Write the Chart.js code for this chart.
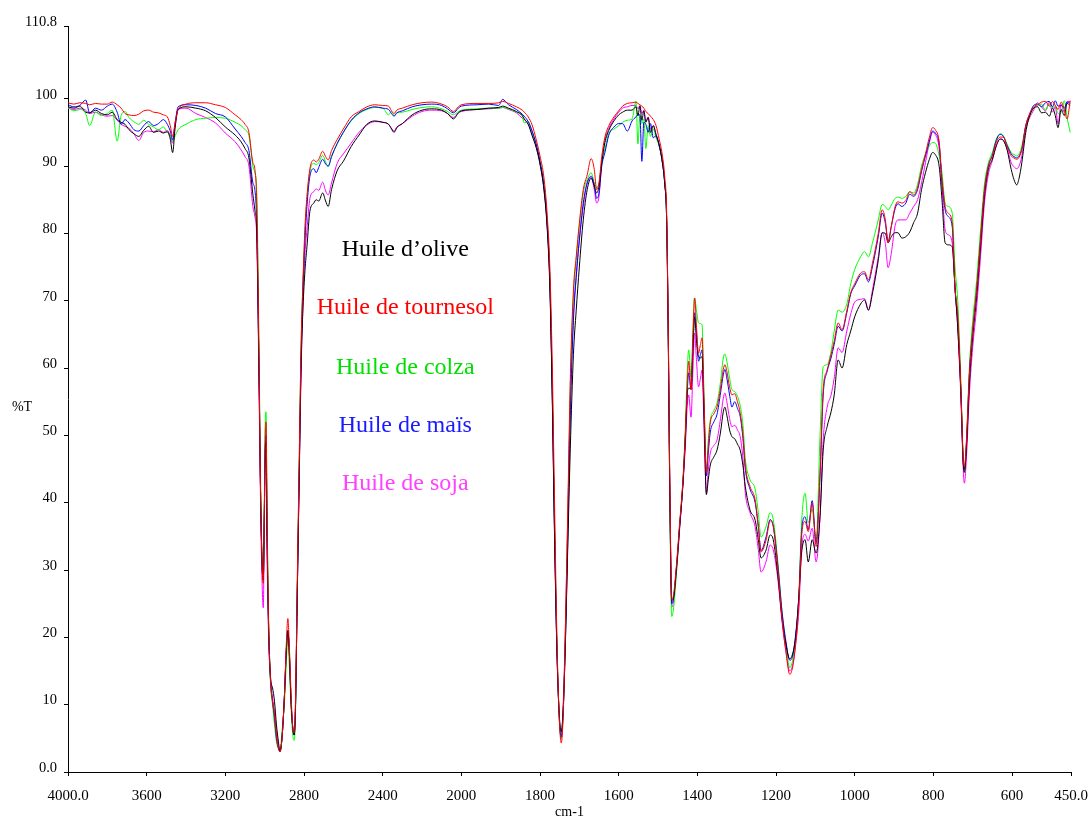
<!DOCTYPE html>
<html>
<head>
<meta charset="utf-8">
<title>Spectres IR des huiles végétales</title>
<script src="https://cdn.jsdelivr.net/npm/chart.js@4.4.1/dist/chart.umd.min.js"></script>
<style>
  html, body { margin: 0; padding: 0; background: #ffffff; }
  canvas { display: block; }
</style>
</head>
<body>
<canvas id="spectra" width="1090" height="821"></canvas>
<script>
// Wavenumbers (cm-1), from 4000 down to 450
const wavenumbers = [
  4000, 3970, 3940, 3910, 3890, 3860, 3830, 3800, 3775, 3750, 3730, 3710, 3690, 3665, 3640, 3615, 3590, 3565, 3540, 3515, 3495, 3480, 3468, 3455, 3440,
  3400, 3350, 3300, 3250, 3200, 3150, 3120, 3100, 3080, 3060, 3050, 3040, 3030,
  3020, 3012, 3007, 3002, 2997, 2993, 2988, 2980, 2970, 2960, 2950, 2940, 2930, 2922, 2912, 2900, 2890, 2882, 2875, 2865, 2855, 2850,
  2843, 2835, 2825, 2815, 2805, 2795, 2785, 2770, 2750, 2738, 2725, 2705, 2690, 2677, 2660, 2630, 2600,
  2560, 2520, 2480, 2440, 2400, 2370, 2355, 2342, 2328, 2300, 2250, 2200, 2150, 2100, 2070, 2040, 2015, 2000,
  1960, 1930, 1905, 1895, 1880, 1860, 1845, 1840, 1830, 1820, 1810, 1800,
  1790, 1782, 1775, 1769, 1763, 1757, 1751, 1746, 1741, 1736, 1730, 1723, 1715, 1708, 1700, 1690, 1680, 1670, 1662, 1656, 1650,
  1643, 1635, 1625, 1612, 1600, 1590, 1578, 1566, 1556, 1551, 1546, 1541, 1536, 1531, 1525, 1519, 1512, 1505, 1497, 1490, 1483, 1478, 1474, 1470,
  1465, 1460, 1455, 1450, 1445, 1440, 1436, 1430, 1426, 1422, 1416, 1411, 1407, 1402, 1397, 1392, 1388, 1383, 1377, 1372, 1367, 1358, 1350, 1341, 1334, 1330, 1325, 1318, 1312, 1305, 1298, 1291, 1284, 1278, 1266, 1253, 1245, 1238,
  1225, 1215, 1207, 1195, 1185, 1175, 1165, 1158, 1150, 1142, 1135, 1126, 1118, 1108, 1098, 1088, 1080, 1070, 1060, 1052, 1042, 1032, 1020, 1010, 1000,
  985, 975, 965, 955, 940, 930, 922, 915, 907, 897, 890, 880, 870, 860, 850, 840, 830, 820, 810, 802, 795, 785, 778, 770, 762, 752,
  745, 738, 730, 724, 721, 716, 708, 700, 690, 680, 670, 660, 650, 640, 630, 622, 612, 602, 595, 588, 582, 575, 565, 555, 545, 535, 525, 515, 505, 497, 490, 483, 475, 467, 460, 452
];

// Transmittance (%T) of each oil, one value per wavenumber
const olive = [
  98.8, 98.6, 98.9, 98.0, 97.9, 98.3, 97.8, 97.6, 98.0, 96.9, 96.5, 96.2, 95.4, 94.8, 94.4, 95.3, 95.9, 95.0, 95.2, 94.9, 95.1, 94.0, 92.0, 95.8, 98.4,
  98.8, 98.6, 98.2, 97.2, 95.8, 94.6, 93.6, 92.6, 91.2, 85.8, 83.5, 80.0, 62,
  40, 30, 28.5, 38, 48, 49, 35, 22, 14, 12.5, 10.5, 7, 4.5, 3.0, 5, 11, 18, 21, 18, 10, 6, 5.5,
  10, 25, 43, 60, 69, 74.5, 78, 83.3, 84.5, 85.0, 84.8, 86.0, 84.8, 84.0, 86.5, 89.4, 90.7,
  92.9, 94.6, 96.2, 96.7, 96.5, 96.2, 95.5, 95.0, 95.7, 96.3, 97.6, 98.3, 98.5, 98.3, 97.8, 97.0, 97.9, 98.2,
  98.4, 98.6, 98.7, 98.9, 98.6, 98.1, 97.5, 97.0, 96.2, 94.5, 92.8, 90.3,
  86.5, 81.0, 72, 56, 35, 18, 8.5, 6.0, 9.5, 18, 32, 48, 62, 68.5, 75, 82, 86.5, 88.2, 87.0, 86.0, 87.0,
  90.5, 93.5, 95.3, 96.7, 97.6, 98.0, 98.3, 98.3, 98.8, 97.5, 98.9, 96.8, 98.2, 96.5, 97.2, 95.0, 96.0, 94.6, 93.2, 91.0, 87.5, 82, 66, 42,
  25.5, 26, 29, 32.5, 36.5, 40, 43.4, 50, 56, 57, 57, 63, 67.6, 64, 61.7, 61.5, 61.7, 53, 41.2, 43.5, 45.6, 46.8, 47.8, 50.5, 53.5, 54.2, 53, 50.8, 49.8, 49.5, 48.7, 47.8, 45.5, 42.4, 38.9, 37.4, 34.5, 31.8,
  33, 35.2, 34.5, 29, 23, 19, 16.8, 17.5, 20, 26, 32.5, 34.5, 31.2, 34.5, 32.5, 38, 47.8, 51.3, 53.5, 56, 61.2, 60, 63.5, 65.5, 67.6,
  69.5, 70.1, 68.6, 71, 76, 80.1, 80, 78.6, 79.5, 80.1, 80.1, 79.3, 79.5, 80.2, 81.6, 83, 86.5, 89, 91, 92, 91.7, 89.9, 85, 78.6, 78.3, 78,
  72, 66, 56.5, 46, 44.5, 48, 58, 64.5, 70.5, 78, 85.5, 89.5, 91, 93, 94, 93.8, 92.3, 89.5, 88, 87.2, 88.2, 90.5, 95, 97.5, 98.6, 98.8, 97.9, 98.0, 97.4, 98.6, 97.5, 95.7, 98.4, 97.5, 99.3, 99.0
];

const tournesol = [
  99.4, 99.2, 99.4, 99.3, 99.1, 99.3, 99.2, 99.2, 99.5, 99.1, 98.6, 97.8, 97.6, 97.5, 97.7, 98.2, 98.3, 98.0, 97.9, 97.6, 97.3, 96.0, 94.4, 96.5, 98.4,
  99.2, 99.4, 99.4, 99.1, 98.7, 97.6, 96.9, 96.2, 95.0, 90.5, 89.6, 84.0, 64,
  40, 30, 28, 38, 50, 52, 38, 22, 13.5, 10.5, 8.5, 5.5, 3.5, 3.0, 5, 11, 19, 22.8, 19, 11, 6, 5.8,
  11, 27, 45, 63, 73, 81, 85.5, 89.6, 90.9, 90.6, 91.0, 92.2, 91.4, 90.9, 92.3, 94.0, 95.5,
  97.3, 98.1, 98.8, 99.1, 99.0, 98.9, 98.2, 97.8, 98.3, 98.6, 99.1, 99.4, 99.5, 99.2, 98.8, 98.1, 98.8, 99.1,
  99.3, 99.3, 99.4, 99.6, 99.3, 98.8, 98.3, 98.0, 97.3, 96.1, 94.0, 91.5,
  88.3, 83.0, 75, 61, 40, 20, 8, 4.3, 8.5, 20, 37, 58.2, 71.6, 76.5, 81.5, 86.5, 88.7, 91.1, 89.5, 86.5, 87.5,
  91.4, 94.3, 96.0, 97.3, 98.2, 98.9, 99.3, 99.4, 99.5, 99.3, 99.1, 98.9, 98.6, 98.1, 97.8, 97.4, 96.9, 96.0, 94.0, 92.0, 88.5, 83, 66, 44,
  25.6, 26.5, 29.5, 33, 37, 40.5, 43.8, 51, 57, 61, 56.8, 65, 70.4, 66, 62.2, 63.5, 64.5, 55, 44.4, 48.5, 51.9, 53.2, 54.2, 57, 59.8, 60.5, 59.5, 57.2, 56, 56.2, 55, 53.3, 50, 45.4, 42.4, 40.4, 36.5, 32.7,
  34.5, 37.3, 36.5, 30, 23, 18, 14.5, 15.5, 19, 25, 35, 37.2, 35.7, 39.9, 33.5, 44.4, 56.8, 59.7, 62, 64, 66.7, 65.7, 68.5, 71.2, 72.5,
  74.1, 74.3, 73.1, 75.5, 80, 83.5, 82, 78.6, 81, 84, 84.7, 84.5, 84.9, 86.2, 85.7, 86.8, 89.5, 91.8, 94.3, 95.7, 95.4, 93.5, 88, 84, 83.0, 81.6,
  72, 68, 57, 46.5, 45.3, 49, 59.5, 65.5, 71.5, 79, 86.3, 90, 91.5, 93.5, 94.3, 94.3, 92.8, 91.5, 91.2, 91.0, 91.3, 92.5, 96, 97.8, 98.8, 99.1, 99.5, 99.6, 98.9, 99.6, 99.0, 98.4, 99.5, 98.4, 97.0, 99.7
];

const colza = [
  98.7, 98.2, 98.4, 97.8, 96.0, 98.0, 97.5, 97.8, 98.3, 93.7, 97.5, 98.1, 97.2, 96.6, 96.2, 96.8, 96.2, 95.8, 95.4, 95.8, 95.0, 94.6, 93.7, 94.5, 95.4,
  96.2, 96.9, 97.1, 97.2, 97.1, 96.5, 96.0, 95.4, 94.5, 90.0, 89.0, 86.0, 66,
  42, 31, 29, 40, 52, 53.5, 40, 23, 13, 10, 7, 4.5, 3.5, 3.2, 6, 10, 16, 19.8, 16, 9, 5, 4.7,
  9, 26, 45, 63, 73, 80, 85, 89.2, 90.4, 90.2, 90.5, 91.6, 90.6, 89.9, 91.4, 93.4, 95.0,
  96.7, 97.8, 98.4, 98.7, 98.6, 97.6, 98.1, 97.5, 97.9, 98.0, 98.4, 98.7, 98.8, 98.5, 98.1, 97.6, 98.1, 98.3,
  98.5, 98.6, 98.6, 98.7, 98.5, 98.0, 97.4, 96.4, 96.6, 95.1, 93.3, 90.7,
  87.3, 82.0, 73.5, 58, 37, 19, 8, 5.0, 9, 19, 35, 57, 70.5, 76, 81, 86, 88, 89.0, 87.5, 86.8, 87.5,
  90.5, 92.5, 94.9, 95.5, 96.0, 96.5, 96.8, 97.0, 99.6, 93.3, 97.5, 96.3, 97.0, 92.6, 96.0, 94.4, 95.5, 94.2, 93.0, 91.0, 87.5, 82, 64, 40,
  23.1, 24.5, 28, 32, 36.5, 40.5, 44, 52, 59, 62.7, 58.7, 66, 70.4, 68.5, 66.7, 66.6, 66.4, 56, 44.6, 49.5, 52.3, 53.7, 54.8, 58, 61.5, 62.1, 61, 58.5, 56.8, 56.5, 55.8, 54.4, 51.5, 46.5, 43.4, 42, 38.5, 34.9,
  36.5, 38.5, 37.5, 31, 24, 19, 15.5, 16.5, 20, 26, 37, 41.4, 37, 39, 34.5, 50, 60.2, 60.5, 62.5, 65.5, 68.6, 68.3, 69.5, 72.5, 74.6,
  76.5, 77.3, 76.5, 78.5, 82, 84.3, 84, 83.5, 84.2, 85.2, 85.4, 85.2, 85.5, 86.2, 86, 87.3, 90.0, 91.8, 93, 93.5, 93.4, 91.5, 89, 84.5, 84, 83,
  75, 70, 58, 46.5, 44.8, 49, 60.5, 67, 73, 80.5, 87.3, 90.5, 92, 94, 94.8, 94.5, 93.2, 92, 91.7, 91.5, 91.8, 93, 96, 97.5, 98.6, 98.9, 99.2, 98.3, 99.2, 98.6, 99.0, 97.8, 98.0, 99.7, 97.2, 95.0
];

const mais = [
  99.1, 98.8, 99.0, 99.8, 97.9, 98.6, 98.3, 98.9, 99.2, 98.0, 96.2, 96.9, 96.4, 95.4, 95.2, 96.0, 96.6, 96.0, 96.3, 96.9, 96.2, 95.2, 93.9, 96.5, 98.8,
  99.1, 99.0, 98.6, 97.8, 97.3, 95.5, 94.4, 93.5, 92.3, 87.5, 86.5, 81.0, 62,
  40, 30, 28.5, 38, 48, 50, 36, 21, 13.5, 10.5, 8, 5, 3.5, 3.1, 5, 11, 18, 21, 18, 10, 6, 5.5,
  10, 25, 43, 61, 72, 79, 84, 88.5, 89.6, 89.0, 89.8, 91.0, 90.3, 90.0, 91.4, 93.4, 95.0,
  96.8, 97.9, 98.5, 98.8, 98.6, 98.4, 97.8, 97.4, 97.9, 98.2, 98.8, 99.1, 99.2, 99.0, 98.5, 97.9, 98.6, 98.9,
  99.1, 99.2, 99.0, 99.9, 99.1, 98.4, 97.7, 97.4, 96.6, 95.2, 93.3, 90.7,
  87.0, 81.6, 73, 57, 36, 18.5, 8, 5.2, 9, 18, 33, 53, 67, 73.5, 79, 84.5, 87.5, 88.5, 87.2, 85.2, 86.0,
  90.0, 92.0, 94.6, 95.8, 96.3, 96.3, 95.2, 96.7, 97.3, 97.6, 97.6, 90.7, 96.5, 96.2, 95.0, 96.3, 94.2, 94.5, 93.0, 91.0, 87.5, 82, 65, 42,
  25, 26, 29, 32.5, 36.5, 40, 43.5, 50.5, 56, 59.3, 56.8, 63.5, 68.2, 65, 61, 62, 62.7, 54, 44, 47.5, 50.5, 52, 53.1, 56.3, 59, 59.8, 58.5, 56, 54.2, 55, 54, 52.8, 49.5, 45, 42, 40, 36.5, 32.9,
  35, 37.5, 36.5, 30.5, 24, 19.5, 16.6, 17.2, 20.5, 26, 35.5, 37.9, 36, 40.3, 34, 44, 56, 59.5, 61.5, 63.5, 66.2, 65.5, 68.2, 71, 72.2,
  73.8, 74, 72.8, 75, 79.5, 83, 81.5, 78.8, 81, 83.7, 84.4, 84.0, 84.5, 85.8, 85.5, 86.5, 89.2, 91.5, 93.7, 95.2, 94.9, 93.2, 87.5, 83.5, 82.5, 81,
  72, 67, 56.5, 46, 45, 48.5, 59.5, 65.5, 71.5, 79, 86.3, 90, 91.6, 93.8, 94.7, 94.4, 93.0, 91.8, 91.4, 91.2, 91.5, 92.5, 96, 97.7, 99.0, 99.2, 98.8, 99.4, 99.6, 98.8, 99.7, 98.9, 99.0, 98.6, 99.5, 99.3
];

const soja = [
  98.6, 98.4, 98.6, 98.3, 97.8, 98.0, 97.6, 97.4, 97.5, 96.8, 96.2, 95.9, 95.6, 94.8, 93.8, 95.0, 95.2, 95.1, 95.4, 95.0, 95.3, 94.5, 93.4, 96.0, 98.4,
  98.6, 97.8, 97.2, 96.4, 94.9, 93.6, 92.4, 91.4, 90.0, 84.0, 82.5, 79.0, 60,
  38, 27, 24.4, 36, 46, 47, 33, 20, 14, 11, 9, 6, 4, 3.2, 5, 11, 18, 21, 18, 10, 6, 5.5,
  10, 25, 42, 59, 70, 77, 80.5, 85.2, 86.2, 86.6, 86.4, 87.6, 86.3, 85.7, 87.5, 90.5, 91.8,
  93.4, 95.0, 96.1, 96.6, 96.5, 96.2, 95.6, 95.2, 95.8, 96.3, 97.4, 98.1, 98.3, 98.2, 97.8, 97.2, 97.9, 98.1,
  98.4, 98.5, 98.6, 98.7, 98.4, 97.9, 97.1, 96.9, 96.2, 94.8, 92.9, 90.3,
  86.6, 81.3, 72.5, 56.5, 35, 18, 8.5, 5.0, 10, 20, 36, 55, 68, 73.5, 79, 84, 87.5, 88.3, 86.5, 84.5, 85.5,
  90.5, 93.8, 95.6, 97.0, 98.0, 98.6, 98.8, 99.0, 99.0, 98.5, 99.0, 97.8, 98.3, 96.6, 97.3, 95.5, 96.0, 94.8, 93.0, 91.0, 87.5, 82, 65, 42,
  24.5, 25.5, 28.5, 32, 36, 40, 43.2, 49, 54, 56, 52.7, 60, 65.2, 61, 57.2, 58.5, 59.7, 51, 41.5, 45, 47.4, 48.5, 49.3, 52.5, 55.5, 56.3, 55, 52.5, 51.3, 51.5, 50.8, 49.8, 46.5, 41.4, 38.5, 36.4, 33, 29.7,
  31.3, 33.7, 33, 28.5, 22.5, 18, 15.0, 15.8, 19, 24, 33, 35.3, 34.3, 36.2, 31.2, 38, 49.3, 54.2, 56, 58.5, 63, 62.3, 65.5, 68, 69.8,
  70.2, 70.3, 68.6, 71.5, 76.5, 80.1, 78.5, 74.9, 77, 81.2, 82, 82, 82, 83, 84, 85, 87.5, 90.5, 93.5, 95, 94.7, 92.5, 87, 80.5, 79.8, 78.6,
  72, 66, 55.5, 45, 42.9, 46.5, 56.5, 63, 69, 76.5, 84.5, 88.8, 90.8, 93, 94, 93.8, 92.5, 90.5, 89.9, 89.6, 90, 91.5, 95.5, 97.2, 98.3, 99.4, 98.8, 98.2, 99.5, 98.0, 98.8, 96.3, 99.2, 98.0, 99.6, 99.6
];

const seriesNames = ['Huile d\u2019olive', 'Huile de tournesol', 'Huile de colza', 'Huile de ma\u00efs', 'Huile de soja'];
const seriesValues = [olive, tournesol, colza, mais, soja];

const xTicks = [4000, 3600, 3200, 2800, 2400, 2000, 1800, 1600, 1400, 1200, 1000, 800, 600, 450];
const xTickLabels = ['4000.0', '3600', '3200', '2800', '2400', '2000', '1800', '1600', '1400', '1200', '1000', '800', '600', '450.0'];
const yTicks = [0, 10, 20, 30, 40, 50, 60, 70, 80, 90, 100, 110.8];
const yTickLabels = ['0.0', '10', '20', '30', '40', '50', '60', '70', '80', '90', '100', '110.8'];

// Styling
const lineColors = ['#000000', '#ff0000', '#00ff00', '#0000ff', '#ff00ff'];
const textColors = ['#000000', '#ff0000', '#00e000', '#1a1aff', '#ff40ff'];
const drawOrder = [2, 1, 4, 3, 5];          // tournesol on top
const SERIF = '"Liberation Serif", "Times New Roman", serif';

// Wavenumber axis: the 4000–2000 cm-1 half is compressed by a factor 2,
// as on the spectrometer printout.
const SCALE_BREAK = 2000;
class WavenumberScale extends Chart.LinearScale {
  buildTicks() {
    this.start = this.min;
    this.end = this.max;
    return xTicks.map(v => ({ value: v }));
  }
  _units(v) {
    const hi = this.max;
    return v >= SCALE_BREAK ? (hi - v) / 2 : (hi - SCALE_BREAK) / 2 + (SCALE_BREAK - v);
  }
  getPixelForValue(v) {
    const total = this._units(this.min);
    return this.left + this.width * this._units(v) / total;
  }
  getValueForPixel(p) {
    const total = this._units(this.min);
    const u = (p - this.left) / this.width * total;
    const uBreak = (this.max - SCALE_BREAK) / 2;
    return u <= uBreak ? this.max - 2 * u : SCALE_BREAK - (u - uBreak);
  }
}
WavenumberScale.id = 'wavenumber';
WavenumberScale.defaults = Chart.LinearScale.defaults;
Chart.register(WavenumberScale);

// Oil names written inside the plot, and the two axis titles
const spectrumText = {
  id: 'spectrumText',
  afterDraw(chart, args, opts) {
    const { ctx, scales: { x, y } } = chart;
    ctx.save();
    ctx.textAlign = 'center';
    ctx.textBaseline = 'middle';
    ctx.font = '24px ' + SERIF;
    seriesNames.forEach((name, i) => {
      ctx.fillStyle = textColors[i];
      ctx.fillText(name, x.getPixelForValue(opts.namesAt), y.getPixelForValue(opts.nameLevels[i]));
    });
    ctx.fillStyle = '#000000';
    ctx.font = '14px ' + SERIF;
    ctx.fillText('%T', 22, y.getPixelForValue(54.2));
    ctx.fillText('cm-1', (x.left + x.right) / 2, x.bottom - 9);
    ctx.restore();
  }
};

const axisGrid = { drawOnChartArea: false, drawTicks: true, tickLength: 4, color: '#000000', lineWidth: 1 };
const axisBorder = { display: true, color: '#000000', width: 1 };

new Chart(document.getElementById('spectra'), {
  type: 'line',
  data: {
    datasets: seriesValues.map((vals, i) => ({
      label: seriesNames[i],
      data: wavenumbers.map((w, j) => ({ x: w, y: vals[j] })),
      borderColor: lineColors[i],
      backgroundColor: lineColors[i],
      borderWidth: 1,
      pointRadius: 0,
      fill: false,
      cubicInterpolationMode: 'monotone',
      order: drawOrder[i]
    }))
  },
  options: {
    responsive: false,
    animation: false,
    devicePixelRatio: 1,
    layout: { padding: { top: 26, right: 19, left: 0, bottom: 0 } },
    plugins: {
      legend: { display: false },
      tooltip: { enabled: false },
      spectrumText: { namesAt: 2285, nameLevels: [77.6, 69.0, 60.1, 51.5, 42.8] }
    },
    scales: {
      x: {
        type: 'wavenumber',
        position: 'bottom',
        min: 450,
        max: 4000,
        afterFit: s => { s.height = 49; s.paddingLeft = 0; s.paddingRight = 0; },
        grid: axisGrid,
        border: axisBorder,
        ticks: {
          autoSkip: false, maxRotation: 0, minRotation: 0, padding: 11,
          color: '#000000', font: { family: SERIF, size: 15 },
          callback: (v, i) => xTickLabels[i]
        }
      },
      y: {
        type: 'linear',
        min: 0,
        max: 110.8,
        afterBuildTicks: s => { s.ticks = yTicks.map(v => ({ value: v })); },
        afterFit: s => { s.width = 68; s.paddingTop = 0; s.paddingBottom = 0; },
        grid: axisGrid,
        border: axisBorder,
        ticks: {
          padding: 7, labelOffset: -4,
          color: '#000000', font: { family: SERIF, size: 14.5 },
          callback: (v, i) => yTickLabels[i]
        }
      }
    }
  },
  plugins: [spectrumText]
});
</script>
</body>
</html>
